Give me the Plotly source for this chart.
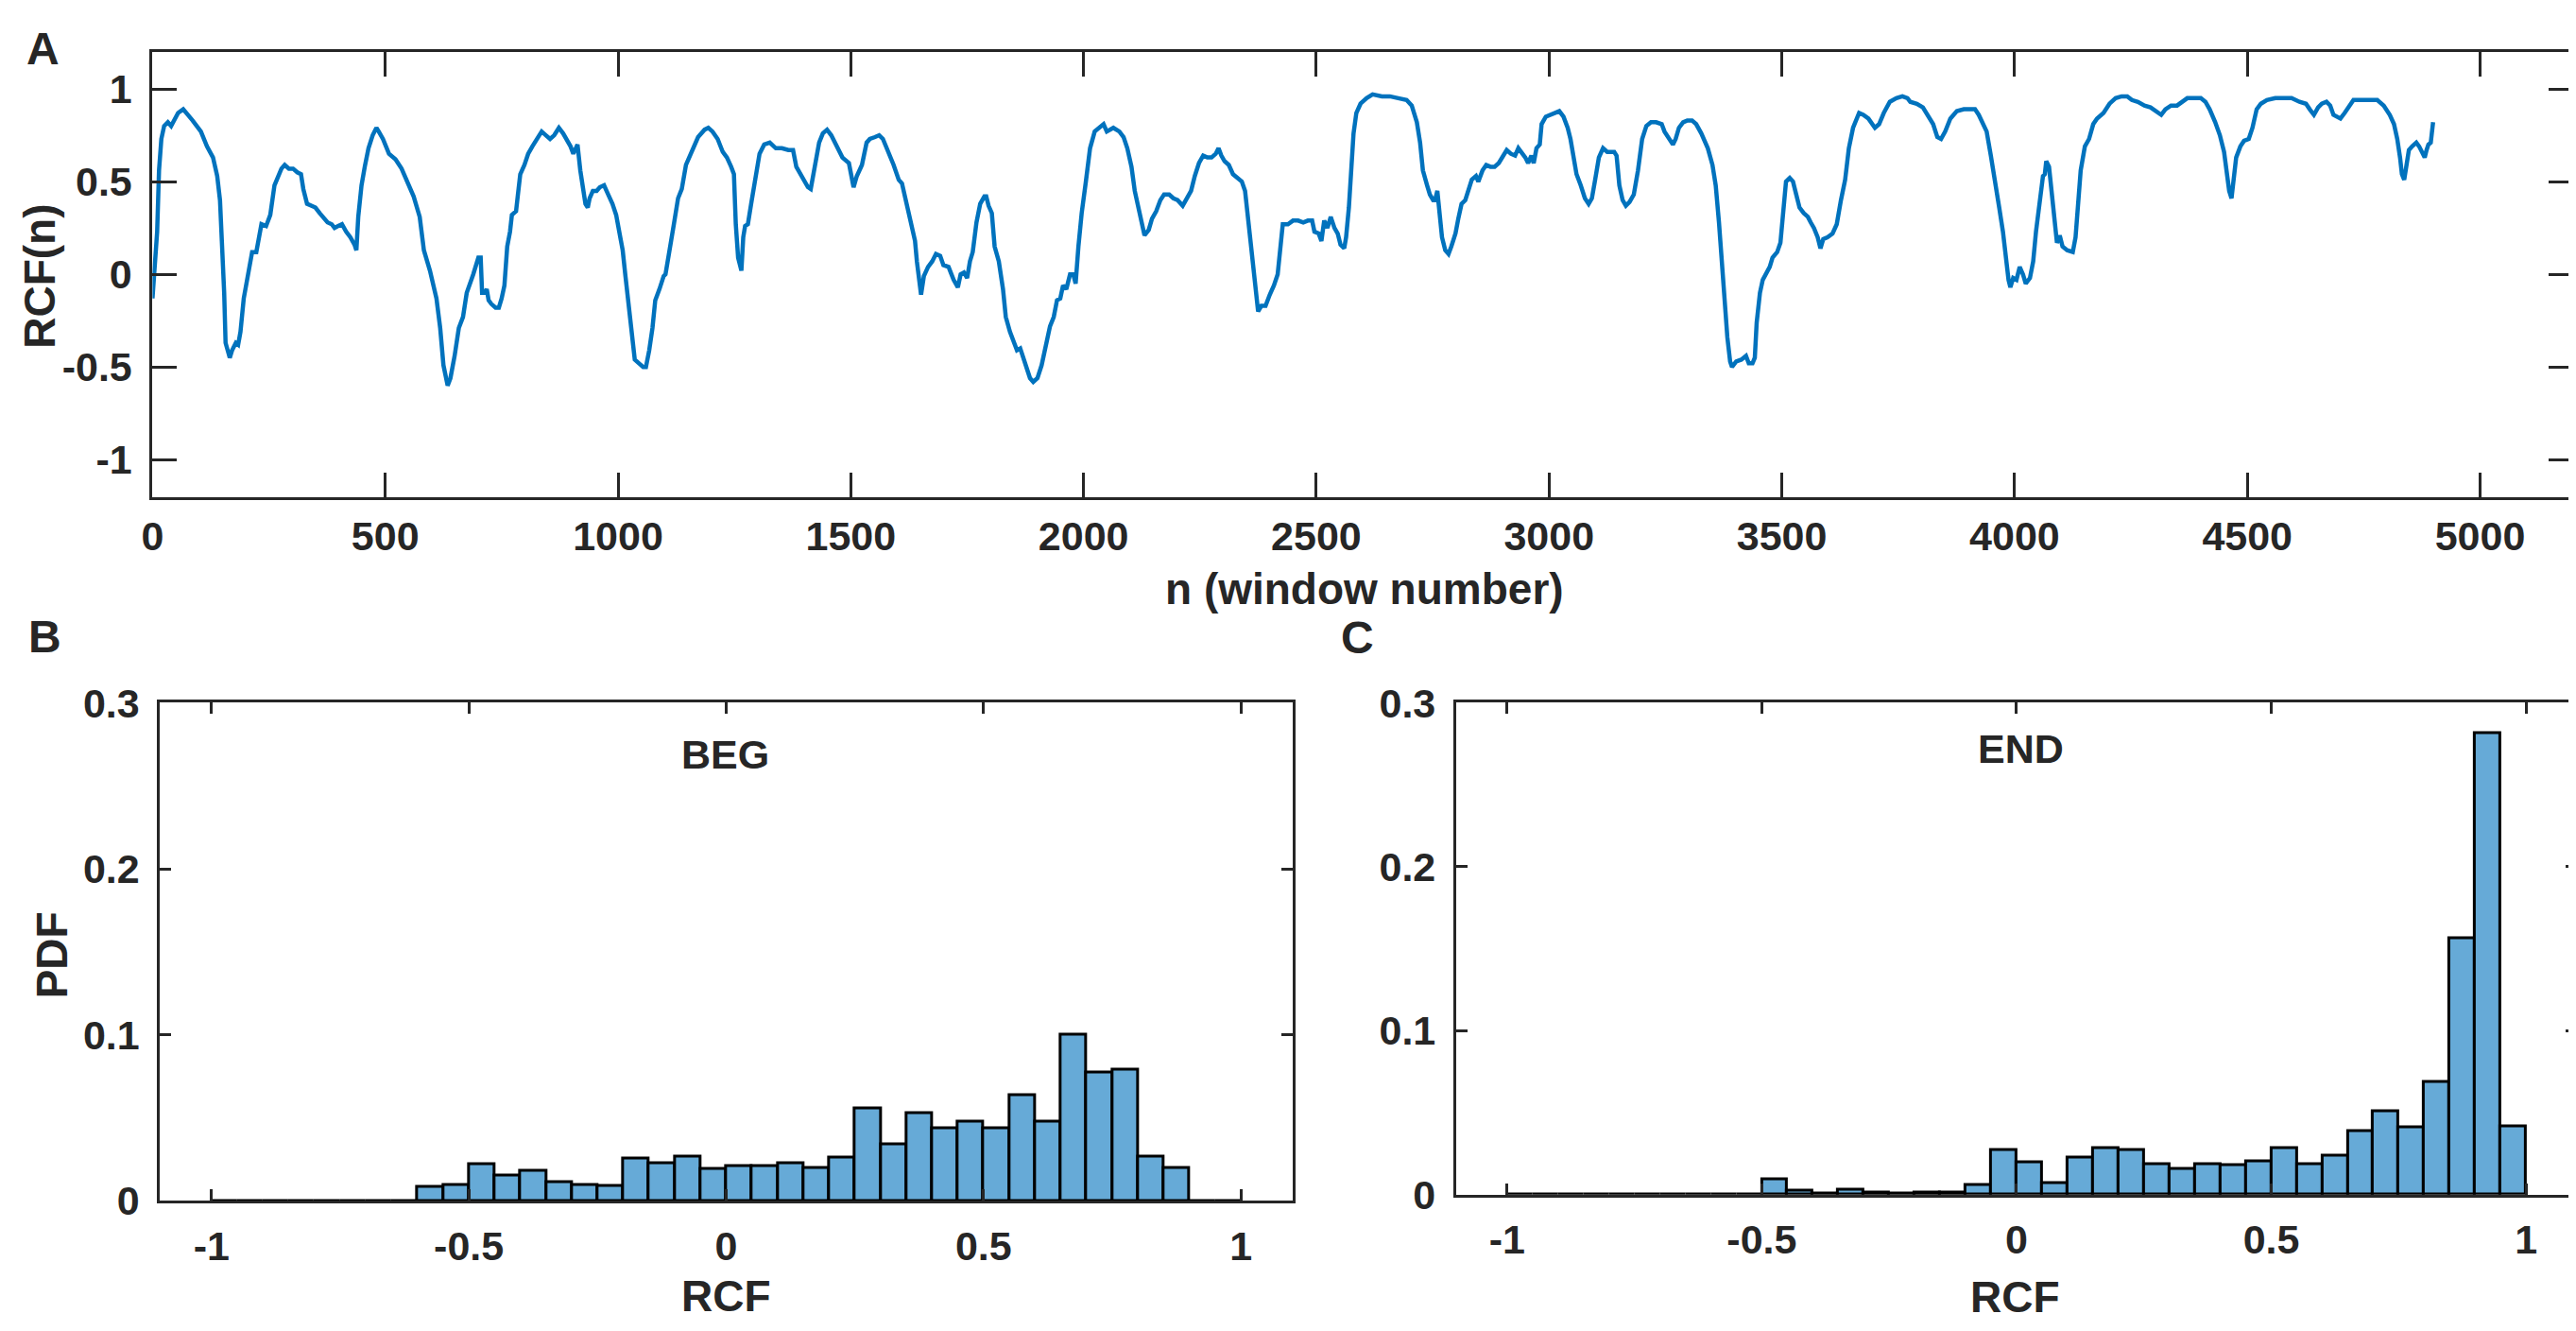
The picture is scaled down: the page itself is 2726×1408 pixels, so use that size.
import plotly.graph_objects as go

# ---- panel A: RCF(n) over window number ----
n_window = [
    0, 4, 10, 14, 19, 25, 33, 40, 47, 55, 66, 73, 86, 104, 117, 130, 139, 145, 150, 154,
    157, 162, 166, 171, 179, 184, 189, 196, 205, 214, 223, 227, 234, 244, 253, 262, 271, 277, 284, 293,
    302, 311, 319, 324, 332, 341, 350, 359, 368, 376, 385, 391, 398, 407, 416, 425, 434, 438, 442, 449,
    456, 464, 473, 481, 486, 495, 508, 522, 535, 548, 561, 574, 583, 596, 610, 618, 625, 634, 640, 649,
    658, 667, 675, 689, 696, 700, 705, 708, 713, 718, 722, 728, 737, 744, 750, 756, 762, 768, 772, 781,
    785, 790, 799, 807, 816, 825, 836, 845, 854, 863, 873, 882, 891, 898, 904, 913, 919, 926, 930, 935,
    939, 946, 954, 961, 970, 979, 988, 996, 1003, 1010, 1016, 1023, 1030, 1036, 1045, 1054, 1060, 1067, 1074, 1080,
    1089, 1098, 1102, 1111, 1120, 1129, 1137, 1146, 1159, 1172, 1186, 1194, 1203, 1214, 1225, 1234, 1243, 1249, 1253, 1258,
    1265, 1269, 1273, 1279, 1286, 1295, 1304, 1314, 1326, 1339, 1352, 1366, 1376, 1383, 1392, 1401, 1408, 1414, 1423, 1432,
    1440, 1449, 1458, 1471, 1482, 1496, 1502, 1506, 1513, 1524, 1534, 1541, 1552, 1561, 1569, 1581, 1592, 1603, 1610, 1620,
    1629, 1638, 1642, 1647, 1651, 1657, 1666, 1675, 1683, 1692, 1699, 1710, 1721, 1730, 1736, 1743, 1750, 1756, 1762, 1770,
    1778, 1787, 1791, 1796, 1803, 1809, 1818, 1827, 1833, 1842, 1851, 1857, 1864, 1871, 1879, 1885, 1892, 1901, 1910, 1919,
    1928, 1936, 1943, 1950, 1956, 1963, 1971, 1978, 1983, 1989, 1996, 2005, 2014, 2024, 2035, 2043, 2050, 2064, 2077, 2086,
    2094, 2103, 2110, 2119, 2125, 2131, 2140, 2147, 2156, 2165, 2173, 2184, 2193, 2202, 2213, 2222, 2231, 2239, 2248, 2257,
    2266, 2275, 2284, 2290, 2296, 2303, 2312, 2321, 2331, 2340, 2347, 2353, 2360, 2367, 2375, 2382, 2391, 2400, 2409, 2417,
    2422, 2428, 2439, 2450, 2461, 2472, 2482, 2491, 2496, 2505, 2511, 2517, 2524, 2531, 2539, 2546, 2552, 2560, 2564, 2570,
    2575, 2580, 2586, 2595, 2608, 2621, 2641, 2658, 2676, 2694, 2705, 2716, 2723, 2729, 2738, 2744, 2751, 2755, 2760, 2764,
    2770, 2777, 2784, 2790, 2799, 2805, 2812, 2820, 2826, 2834, 2843, 2848, 2857, 2865, 2874, 2883, 2892, 2901, 2909, 2918,
    2927, 2934, 2943, 2949, 2955, 2962, 2967, 2973, 2980, 2984, 2993, 3002, 3013, 3022, 3031, 3040, 3046, 3052, 3059, 3068,
    3077, 3085, 3092, 3099, 3107, 3116, 3125, 3134, 3140, 3145, 3151, 3158, 3165, 3173, 3182, 3191, 3200, 3209, 3219, 3230,
    3242, 3248, 3257, 3266, 3272, 3279, 3288, 3297, 3307, 3316, 3327, 3341, 3351, 3358, 3365, 3371, 3378, 3383, 3389, 3393,
    3402, 3413, 3423, 3429, 3437, 3442, 3446, 3453, 3459, 3468, 3474, 3480, 3490, 3497, 3504, 3509, 3517, 3524, 3531, 3538,
    3547, 3556, 3562, 3569, 3577, 3583, 3589, 3598, 3609, 3618, 3627, 3636, 3644, 3653, 3666, 3675, 3686, 3693, 3700, 3709,
    3719, 3732, 3746, 3759, 3770, 3776, 3790, 3803, 3814, 3825, 3834, 3842, 3851, 3862, 3876, 3891, 3904, 3915, 3923, 3931,
    3940, 3949, 3958, 3967, 3975, 3982, 3987, 3991, 3997, 4004, 4011, 4018, 4024, 4033, 4040, 4046, 4054, 4061, 4065, 4068,
    4074, 4079, 4085, 4091, 4097, 4103, 4113, 4125, 4131, 4136, 4142, 4151, 4160, 4169, 4177, 4191, 4204, 4217, 4230, 4242,
    4252, 4265, 4279, 4292, 4305, 4315, 4324, 4336, 4349, 4359, 4371, 4384, 4400, 4410, 4419, 4431, 4441, 4450, 4457, 4461,
    4466, 4470, 4476, 4485, 4493, 4503, 4511, 4520, 4529, 4542, 4560, 4577, 4595, 4612, 4626, 4634, 4643, 4652, 4660, 4670,
    4678, 4685, 4692, 4700, 4709, 4720, 4728, 4740, 4751, 4766, 4779, 4793, 4806, 4815, 4822, 4828, 4832, 4837, 4841, 4847,
    4854, 4863, 4869, 4876, 4881, 4885, 4889, 4894, 4896, 4899,
]
rcf = [
    -0.13, 0.0, 0.23, 0.56, 0.73, 0.80, 0.82, 0.80, 0.83, 0.87, 0.89, 0.87, 0.83, 0.77, 0.69, 0.63, 0.53, 0.40, 0.15, -0.10,
    -0.37, -0.43, -0.45, -0.41, -0.37, -0.38, -0.31, -0.13, -0.01, 0.12, 0.12, 0.17, 0.27, 0.26, 0.32, 0.48, 0.53, 0.57, 0.59, 0.57,
    0.57, 0.55, 0.54, 0.46, 0.38, 0.37, 0.36, 0.33, 0.30, 0.28, 0.27, 0.25, 0.26, 0.27, 0.23, 0.20, 0.16, 0.13, 0.31, 0.48,
    0.58, 0.68, 0.75, 0.79, 0.77, 0.73, 0.65, 0.62, 0.57, 0.50, 0.42, 0.31, 0.13, 0.02, -0.13, -0.29, -0.49, -0.60, -0.56, -0.44,
    -0.29, -0.23, -0.10, 0.0, 0.05, 0.09, 0.09, -0.10, -0.10, -0.08, -0.14, -0.16, -0.18, -0.18, -0.13, -0.06, 0.15, 0.23, 0.32, 0.34,
    0.43, 0.54, 0.59, 0.65, 0.69, 0.73, 0.77, 0.75, 0.73, 0.75, 0.79, 0.76, 0.72, 0.69, 0.65, 0.70, 0.56, 0.46, 0.38, 0.36,
    0.41, 0.45, 0.45, 0.47, 0.48, 0.43, 0.38, 0.32, 0.23, 0.13, -0.01, -0.18, -0.36, -0.46, -0.48, -0.50, -0.50, -0.41, -0.29, -0.14,
    -0.08, -0.01, 0.0, 0.15, 0.27, 0.41, 0.46, 0.59, 0.67, 0.74, 0.78, 0.79, 0.77, 0.73, 0.66, 0.63, 0.58, 0.54, 0.27, 0.09,
    0.02, 0.20, 0.26, 0.27, 0.38, 0.53, 0.65, 0.70, 0.71, 0.68, 0.68, 0.67, 0.67, 0.58, 0.54, 0.51, 0.47, 0.46, 0.59, 0.71,
    0.76, 0.78, 0.75, 0.69, 0.63, 0.60, 0.50, 0.47, 0.53, 0.59, 0.71, 0.73, 0.74, 0.75, 0.73, 0.66, 0.59, 0.51, 0.49, 0.38,
    0.27, 0.18, 0.07, -0.06, -0.11, -0.01, 0.04, 0.07, 0.11, 0.10, 0.05, 0.04, -0.03, -0.07, 0.0, 0.01, -0.02, 0.07, 0.12, 0.28,
    0.38, 0.42, 0.42, 0.37, 0.33, 0.15, 0.07, -0.08, -0.23, -0.31, -0.38, -0.41, -0.40, -0.46, -0.51, -0.56, -0.58, -0.56, -0.49, -0.37,
    -0.28, -0.23, -0.14, -0.13, -0.06, -0.08, 0.0, 0.0, -0.05, 0.15, 0.33, 0.50, 0.68, 0.77, 0.79, 0.81, 0.77, 0.79, 0.77, 0.74,
    0.68, 0.58, 0.45, 0.35, 0.27, 0.21, 0.24, 0.30, 0.34, 0.40, 0.43, 0.43, 0.41, 0.40, 0.37, 0.41, 0.45, 0.53, 0.60, 0.64,
    0.63, 0.63, 0.65, 0.68, 0.64, 0.61, 0.59, 0.54, 0.52, 0.50, 0.45, 0.30, 0.13, -0.03, -0.20, -0.17, -0.17, -0.11, -0.06, 0.0,
    0.13, 0.27, 0.27, 0.29, 0.29, 0.28, 0.29, 0.29, 0.23, 0.22, 0.18, 0.29, 0.25, 0.31, 0.25, 0.22, 0.16, 0.14, 0.20, 0.36,
    0.56, 0.76, 0.87, 0.92, 0.95, 0.97, 0.96, 0.96, 0.95, 0.94, 0.91, 0.82, 0.71, 0.56, 0.48, 0.43, 0.40, 0.40, 0.45, 0.35,
    0.20, 0.13, 0.11, 0.15, 0.22, 0.30, 0.38, 0.40, 0.45, 0.51, 0.53, 0.50, 0.56, 0.59, 0.58, 0.58, 0.60, 0.64, 0.67, 0.65,
    0.64, 0.68, 0.65, 0.63, 0.60, 0.64, 0.60, 0.68, 0.70, 0.81, 0.85, 0.86, 0.87, 0.88, 0.85, 0.79, 0.73, 0.63, 0.54, 0.48,
    0.41, 0.38, 0.41, 0.51, 0.63, 0.68, 0.66, 0.66, 0.66, 0.64, 0.48, 0.40, 0.37, 0.39, 0.43, 0.56, 0.73, 0.80, 0.82, 0.82,
    0.81, 0.77, 0.73, 0.70, 0.73, 0.79, 0.82, 0.83, 0.83, 0.81, 0.76, 0.68, 0.59, 0.48, 0.28, 0.07, -0.18, -0.34, -0.47, -0.50,
    -0.47, -0.46, -0.44, -0.48, -0.48, -0.45, -0.26, -0.10, -0.03, 0.02, 0.04, 0.09, 0.12, 0.17, 0.36, 0.50, 0.52, 0.50, 0.43, 0.36,
    0.33, 0.31, 0.28, 0.25, 0.20, 0.14, 0.19, 0.20, 0.22, 0.27, 0.40, 0.51, 0.68, 0.79, 0.87, 0.86, 0.84, 0.81, 0.79, 0.81,
    0.87, 0.93, 0.95, 0.96, 0.95, 0.93, 0.92, 0.90, 0.86, 0.81, 0.74, 0.73, 0.77, 0.84, 0.88, 0.89, 0.89, 0.89, 0.86, 0.82,
    0.77, 0.64, 0.51, 0.36, 0.23, 0.07, -0.03, -0.07, -0.02, -0.03, 0.04, 0.0, -0.05, -0.02, 0.07, 0.23, 0.40, 0.53, 0.54, 0.61,
    0.58, 0.46, 0.27, 0.17, 0.21, 0.15, 0.13, 0.12, 0.20, 0.36, 0.56, 0.69, 0.73, 0.81, 0.84, 0.87, 0.92, 0.95, 0.96, 0.96,
    0.94, 0.93, 0.91, 0.90, 0.88, 0.86, 0.89, 0.91, 0.91, 0.93, 0.95, 0.95, 0.95, 0.93, 0.89, 0.82, 0.75, 0.66, 0.53, 0.45,
    0.41, 0.50, 0.63, 0.69, 0.72, 0.73, 0.79, 0.89, 0.92, 0.94, 0.95, 0.95, 0.95, 0.93, 0.92, 0.89, 0.86, 0.90, 0.92, 0.93,
    0.91, 0.86, 0.85, 0.84, 0.87, 0.91, 0.94, 0.94, 0.94, 0.94, 0.94, 0.91, 0.86, 0.81, 0.73, 0.63, 0.54, 0.51, 0.58, 0.67,
    0.69, 0.71, 0.69, 0.65, 0.63, 0.67, 0.70, 0.71, 0.76, 0.82,
]

# ---- panels B and C: PDF histograms of RCF (bin width 0.05) ----
bin_centers = [
    -0.975, -0.925, -0.875, -0.825, -0.775, -0.725, -0.675, -0.625, -0.575, -0.525,
    -0.475, -0.425, -0.375, -0.325, -0.275, -0.225, -0.175, -0.125, -0.075, -0.025,
    0.025, 0.075, 0.125, 0.175, 0.225, 0.275, 0.325, 0.375, 0.425, 0.475,
    0.525, 0.575, 0.625, 0.675, 0.725, 0.775, 0.825, 0.875, 0.925, 0.975,
]
pdf_beg = [
    0, 0, 0, 0, 0, 0, 0, 0, 0.0082, 0.0098,
    0.022, 0.0152, 0.0183, 0.0113, 0.0095, 0.0088, 0.0253, 0.0229, 0.0268, 0.0195,
    0.0207, 0.0207, 0.0229, 0.0201, 0.0259, 0.0558, 0.0338, 0.0527, 0.0439, 0.0479,
    0.0439, 0.0634, 0.0479, 0.100, 0.0771, 0.0793, 0.0265, 0.0198, 0, 0,
]
pdf_end = [
    0, 0, 0, 0, 0, 0, 0, 0, 0, 0,
    0.0093, 0.0025, 0.001, 0.0028, 0.0015, 0.0006, 0.0015, 0.0015, 0.0062, 0.0274,
    0.020, 0.0074, 0.0225, 0.0287, 0.0274, 0.0185, 0.0157, 0.0188, 0.0179, 0.0204,
    0.0287, 0.0185, 0.024, 0.0389, 0.0509, 0.041, 0.0688, 0.1566, 0.2815, 0.0419,
]

n_ticks = [0, 500, 1000, 1500, 2000, 2500, 3000, 3500, 4000, 4500, 5000]
rcf_ticks = [-1, -0.5, 0, 0.5, 1]
rcf_tick_text = ['-1', '-0.5', '0', '0.5', '1']
pdf_ticks = [0, 0.1, 0.2, 0.3]
pdf_tick_text = ['0', '0.1', '0.2', '0.3']

W, H = 2726, 1408
INK = '#262626'
FONT = 'Liberation Sans'


def px(x):
    return x / W


def py(y):
    return 1 - y / H


fig = go.Figure()

fig.add_trace(go.Scatter(x=n_window, y=rcf, mode='lines',
                         line=dict(color='#0072BD', width=4.5),
                         xaxis='x', yaxis='y', showlegend=False))

fig.add_trace(go.Bar(x=bin_centers, y=pdf_beg, width=0.05,
                     marker=dict(color='#66AAD7', line=dict(color='black', width=3)),
                     xaxis='x2', yaxis='y2', showlegend=False))
fig.add_trace(go.Bar(x=bin_centers, y=pdf_end, width=0.05,
                     marker=dict(color='#66AAD7', line=dict(color='black', width=3)),
                     xaxis='x3', yaxis='y3', showlegend=False))

axis_common = dict(showline=True, linecolor=INK, linewidth=3, mirror='ticks',
                   ticks='inside', tickcolor=INK, tickwidth=3,
                   showgrid=False, zeroline=False,
                   tickfont=dict(family=FONT, size=43, color=INK, weight='bold'))

fig.update_layout(
    width=W, height=H,
    margin=dict(l=0, r=0, t=0, b=0),
    paper_bgcolor='white', plot_bgcolor='white',
    bargap=0,
    font=dict(family=FONT, color=INK, weight='bold'),
    xaxis=dict(domain=[px(142), px(2715)], range=[0, 5200], tickvals=n_ticks,
               ticklen=26, anchor='y', ticklabelstandoff=2, **axis_common),
    yaxis=dict(domain=[py(511), py(23.6)], range=[-1.2, 1.2], tickvals=rcf_ticks,
               ticktext=rcf_tick_text, ticklen=26, anchor='x', ticklabelstandoff=10,
               **axis_common),
    xaxis2=dict(domain=[px(150), px(1353.6)], range=[-1.1, 1.1], tickvals=rcf_ticks,
                ticktext=rcf_tick_text, ticklen=12, anchor='y2', ticklabelstandoff=8,
                **axis_common),
    yaxis2=dict(domain=[py(1282), py(736.6)], range=[0, 0.3], tickvals=pdf_ticks,
                ticktext=pdf_tick_text, ticklen=12, anchor='x2', ticklabelstandoff=10,
                **axis_common),
    xaxis3=dict(domain=[px(1527.6), px(2719)], range=[-1.1, 1.1], tickvals=rcf_ticks,
                ticktext=rcf_tick_text, ticklen=12, anchor='y3', ticklabelstandoff=8,
                **axis_common),
    yaxis3=dict(domain=[py(1275.3), py(736.6)], range=[0, 0.3], tickvals=pdf_ticks,
                ticktext=pdf_tick_text, ticklen=12, anchor='x3', ticklabelstandoff=10,
                **axis_common),
)

labels = [
    ('A', 26, 20, 48, 0),
    ('B', 28, 664, 48, 0),
    ('C', 1423, 665, 48, 0),
    ('BEG', 751, 793, 43, 0),
    ('END', 2128, 787, 43, 0),
    ('RCF(n)', 22, 269, 46, -90),
    ('PDF', 36, 1013, 46, -90),
    ('n (window number)', 1430, 612, 46, 0),
    ('RCF', 752, 1386, 46, 0),
    ('RCF', 2122, 1387, 46, 0),
]
for text, x, y, size, angle in labels:
    fig.add_annotation(text=text, x=px(x), y=py(y), xref='paper', yref='paper',
                       xanchor='center', yanchor='middle', showarrow=False,
                       textangle=angle,
                       font=dict(family=FONT, size=size, color=INK, weight='bold'))

fig.write_html('out.html')
